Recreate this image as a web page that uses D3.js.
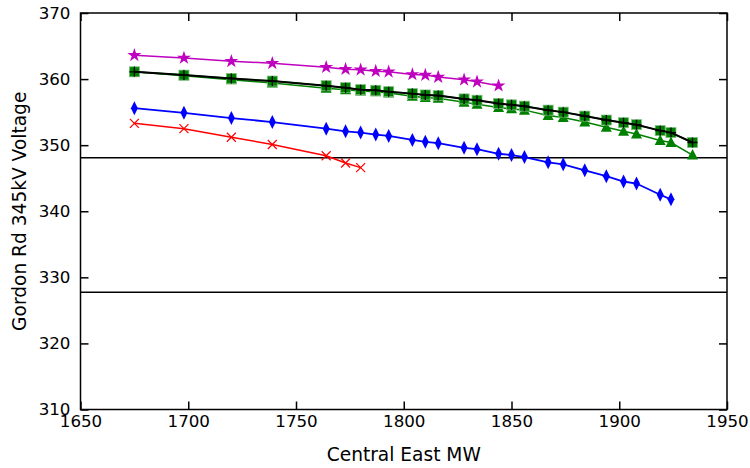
<!DOCTYPE html>
<html><head><meta charset="utf-8">
<script src="https://cdn.jsdelivr.net/npm/d3@7"></script>
<style>body{margin:0;background:#fff}svg{display:block}text{font-family:"DejaVu Sans",sans-serif}</style>
</head><body><svg id="c" width="750" height="468"></svg>
<script>
const xsAll = [1675,1698,1720,1739,1764,1773,1780,1787,1793,1804,1810,1816,1828,1834,1844,1850,1856,1867,1874,1884,1894,1902,1908,1919,1924,1934];
const redX = xsAll.slice(0,7);
const redV = [353.3,352.5,351.2,350.1,348.4,347.3,346.6];
const blueX = xsAll.slice(0,25);
const blueV = [355.6,354.9,354.1,353.5,352.5,352.1,351.9,351.6,351.4,350.8,350.5,350.3,349.6,349.4,348.7,348.5,348.2,347.4,347.1,346.2,345.3,344.5,344.2,342.5,341.8];
const magX = xsAll.slice(0,15);
const magV = [363.6,363.2,362.7,362.4,361.8,361.5,361.4,361.2,361.1,360.7,360.6,360.3,359.9,359.6,359.0];
const sqX = xsAll;
const sqV = [361.1,360.6,360.1,359.7,359.0,358.7,358.4,358.3,358.1,357.8,357.6,357.5,357.0,356.8,356.3,356.1,355.9,355.3,355.0,354.4,353.8,353.4,353.1,352.2,351.9,350.4];
const triX = xsAll;
const triV = [361.1,360.5,359.9,359.4,358.6,358.4,358.2,358.1,357.9,357.4,357.2,357.1,356.5,356.2,355.7,355.5,355.3,354.5,354.2,353.5,352.7,352.1,351.7,350.7,350.4,348.5];
const limits = [348.1, 327.75];
const xTicks = [1650,1700,1750,1800,1850,1900,1950];
const yTicks = [310,320,330,340,350,360,370];

const svg = d3.select("#c");
const L=80.5, R=727, T=13, B=409.5;
const x = d3.scaleLinear().domain([1650,1950]).range([L,R]);
const y = d3.scaleLinear().domain([310,370]).range([B,T]);

limits.forEach(v=>{
  svg.append("line").attr("x1",L).attr("x2",R).attr("y1",y(v)).attr("y2",y(v))
    .attr("stroke","#000").attr("stroke-width",1.5);
});

const line = d3.line().x(d=>x(d[0])).y(d=>y(d[1]));
function series(xs, vs, color, marker, lw){
  const data = xs.map((d,i)=>[d,vs[i]]);
  svg.append("path").datum(data).attr("d",line).attr("fill","none").attr("stroke",color).attr("stroke-width",lw);
  const g = svg.append("g");
  data.forEach(d=>{
    const cx=x(d[0]), cy=y(d[1]);
    if(marker==="x"){
      g.append("path").attr("d",`M${cx-4.5},${cy-4.5}L${cx+4.5},${cy+4.5}M${cx-4.5},${cy+4.5}L${cx+4.5},${cy-4.5}`).attr("stroke",color).attr("stroke-width",1.2);
    } else if(marker==="+"){
      g.append("path").attr("d",`M${cx-5},${cy}L${cx+5},${cy}M${cx},${cy-5}L${cx},${cy+5}`).attr("stroke",color).attr("stroke-width",1.3);
    } else if(marker==="diamond"){
      g.append("path").attr("d",`M${cx},${cy-7}L${cx+3.5},${cy}L${cx},${cy+7}L${cx-3.5},${cy}Z`).attr("fill",color);
    } else if(marker==="square"){
      g.append("rect").attr("x",cx-5).attr("y",cy-5).attr("width",10).attr("height",10).attr("fill",color).attr("stroke","#7fbf7f").attr("stroke-width",0.8);
    } else if(marker==="tri"){
      g.append("path").attr("d",`M${cx},${cy-6}L${cx+5.5},${cy+4.5}L${cx-5.5},${cy+4.5}Z`).attr("fill",color);
    } else if(marker==="star"){
      g.append("path").attr("d",d3.symbol().type(d3.symbolStar).size(60)()).attr("transform",`translate(${cx},${cy})`).attr("fill",color);
    }
  });
}
series(redX, redV, "#ff0000", "x", 1.5);
series(blueX, blueV, "#0000ff", "diamond", 1.8);
series(magX, magV, "#bf00bf", "star", 1.5);
series(triX, triV, "#008000", "tri", 1.5);
series(sqX, sqV, "#008000", "square", 1.5);
series(sqX, sqV, "#000000", "+", 2);

svg.append("rect").attr("x",L).attr("y",T).attr("width",R-L).attr("height",B-T).attr("fill","none").attr("stroke","#000").attr("stroke-width",1.5);

const tl=8, fmt=d3.format("d");
const gx = svg.append("g").attr("transform",`translate(0,${B})`)
  .call(d3.axisBottom(x).tickValues(xTicks).tickFormat(fmt).tickSizeInner(-tl).tickSizeOuter(0).tickPadding(6));
const gxt = svg.append("g").attr("transform",`translate(0,${T})`)
  .call(d3.axisTop(x).tickValues(xTicks).tickSizeInner(-tl).tickSizeOuter(0).tickFormat(""));
const gy = svg.append("g").attr("transform",`translate(${L},0)`)
  .call(d3.axisLeft(y).tickValues(yTicks).tickFormat(fmt).tickSizeInner(-tl).tickSizeOuter(0).tickPadding(10));
const gyr = svg.append("g").attr("transform",`translate(${R},0)`)
  .call(d3.axisRight(y).tickValues(yTicks).tickSizeInner(-tl).tickSizeOuter(0).tickFormat(""));
[gx,gxt,gy,gyr].forEach(g=>{
  g.attr("font-family",null).attr("font-size",null);
  g.select(".domain").remove();
  g.selectAll(".tick line").attr("stroke","#000").attr("stroke-width",1.5);
  g.selectAll("text").style("font-size","16.7px").style("font-family","'DejaVu Sans'").attr("fill","#000");
});

svg.append("text").attr("x",(L+R)/2).attr("y",461).attr("text-anchor","middle").style("font-size","18.6px").text("Central East MW");
svg.append("text").attr("transform",`translate(26,${(T+B)/2}) rotate(-90)`).attr("text-anchor","middle").style("font-size","18.6px").text("Gordon Rd 345kV Voltage");
</script></body></html>
